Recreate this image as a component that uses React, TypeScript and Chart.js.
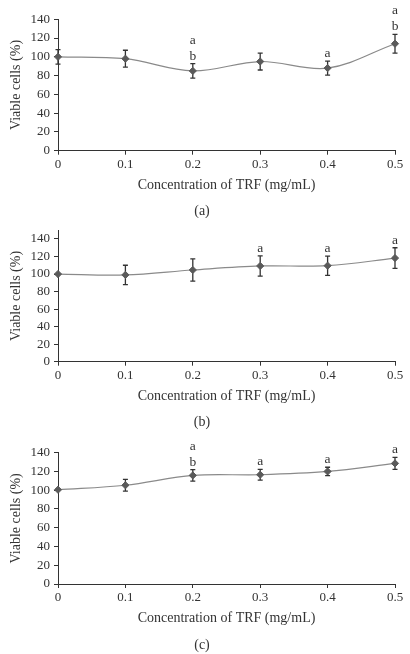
import React, { useEffect, useRef } from "react";
import { Chart, registerables } from "chart.js";

Chart.register(...registerables);

const xLabels = ["0", "0.1", "0.2", "0.3", "0.4", "0.5"];

const valuesA = [100, 98, 85, 95, 88, 114];
const errorsA = [7.7, 9, 7.7, 9, 7.5, 10];
const lettersA = ["", "", "ab", "", "a", "ab"];

const valuesB = [100, 99, 104.6, 109.2, 109.5, 118.2];
const errorsB = [0, 11, 12.8, 11.5, 11, 11.8];
const lettersB = ["", "", "", "a", "a", "a"];

const valuesC = [100.5, 105.3, 115.8, 116.5, 120, 128.6];
const errorsC = [0, 6.3, 6.2, 5.7, 4.5, 6.4];
const lettersC = ["", "", "ab", "a", "a", "a"];

const yMaxes = [140, 150, 140];
const captions = ["(a)", "(b)", "(c)"];
const xTitle = "Concentration of TRF (mg/mL)";
const yTitle = "Viable cells (%)";

const FONT = "'Liberation Serif', 'Times New Roman', serif";
const TEXT = "#333333";
const AXIS = "#333333";

const panels = [
  { values: valuesA, errors: errorsA, letters: lettersA, yMax: yMaxes[0], caption: captions[0], top: 0, padTop: 19.3, padBottom: 24.3 },
  { values: valuesB, errors: errorsB, letters: lettersB, yMax: yMaxes[1], caption: captions[1], top: 218, padTop: 12.2, padBottom: 31.3 },
  { values: valuesC, errors: errorsC, letters: lettersC, yMax: yMaxes[2], caption: captions[2], top: 436, padTop: 16.7, padBottom: 27 },
];

function Panel(props: any) {
  const { values, errors, letters, yMax, caption, padTop, padBottom } = props;
  const ref = useRef<HTMLCanvasElement | null>(null);
  useEffect(() => {
    if (!ref.current) return;
    const overlay = {
      id: "overlay",
      beforeDatasetsDraw(chart: any) {
        const ctx = chart.ctx;
        const xs = chart.scales.x;
        const ys = chart.scales.y;
        ctx.save();
        ctx.strokeStyle = AXIS;
        ctx.lineWidth = 1.3;
        values.forEach((v: number, i: number) => {
          const e = errors[i];
          if (!e) return;
          const x = xs.getPixelForValue(i);
          const yt = ys.getPixelForValue(v + e);
          const yb = ys.getPixelForValue(v - e);
          ctx.beginPath();
          ctx.moveTo(x, yt);
          ctx.lineTo(x, yb);
          ctx.moveTo(x - 2.5, yt);
          ctx.lineTo(x + 2.5, yt);
          ctx.moveTo(x - 2.5, yb);
          ctx.lineTo(x + 2.5, yb);
          ctx.stroke();
        });
        ctx.restore();
      },
      afterDraw(chart: any) {
        const ctx = chart.ctx;
        const xs = chart.scales.x;
        const ys = chart.scales.y;
        ctx.save();
        ctx.fillStyle = TEXT;
        ctx.font = `13.5px ${FONT}`;
        ctx.textAlign = "center";
        ctx.textBaseline = "middle";
        letters.forEach((s: string, i: number) => {
          if (!s) return;
          const x = xs.getPixelForValue(i);
          const yt = ys.getPixelForValue(values[i] + errors[i]);
          const n = s.length;
          for (let k = 0; k < n; k++) {
            const y = yt - 7.5 - (n - 1 - k) * 16;
            ctx.fillText(s[k], x, y);
          }
        });
        ctx.font = `14px ${FONT}`;
        ctx.fillText(caption, 202, chart.chartArea.bottom + 61);
        ctx.restore();
      },
    };
    const chart = new Chart(ref.current, {
      type: "line",
      data: {
        labels: xLabels,
        datasets: [
          {
            data: values,
            borderColor: "#8a8a8a",
            borderWidth: 1.2,
            tension: 0.35,
            pointStyle: "rectRot",
            pointRadius: 3.6,
            pointBackgroundColor: "#5a5a5a",
            pointBorderColor: "#5a5a5a",
            pointBorderWidth: 1,
            fill: false,
          },
        ],
      },
      options: {
        animation: false,
        responsive: false,
        devicePixelRatio: 1,
        layout: { padding: { top: padTop, bottom: padBottom, left: 0, right: 15 } },
        plugins: { legend: { display: false }, tooltip: { enabled: false }, title: { display: false } },
        scales: {
          x: {
            type: "category",
            offset: false,
            afterFit: (s: any) => {
              s.height = 43;
            },
            grid: { drawOnChartArea: false, drawTicks: true, tickLength: 4, color: AXIS, lineWidth: 1 },
            border: { display: true, color: AXIS, width: 1 },
            ticks: { color: TEXT, padding: 2, font: { family: FONT, size: 13 }, maxRotation: 0, autoSkip: false },
            title: { display: true, text: xTitle, color: TEXT, font: { family: FONT, size: 14 }, padding: { top: 0, bottom: 0 } },
          },
          y: {
            type: "linear",
            min: 0,
            max: yMax,
            afterFit: (s: any) => {
              s.width = 58;
            },
            grid: { drawOnChartArea: false, drawTicks: true, tickLength: 4, color: AXIS, lineWidth: 1 },
            border: { display: true, color: AXIS, width: 1 },
            ticks: { stepSize: 20, includeBounds: false, color: TEXT, padding: 4, font: { family: FONT, size: 13 } },
            title: { display: true, text: yTitle, color: TEXT, font: { family: FONT, size: 14 }, padding: { top: 7.5, bottom: 0 } },
          },
        },
      },
      plugins: [overlay],
    });
    return () => chart.destroy();
  }, []);
  return <canvas ref={ref} width={410} height={218} style={{ display: "block", width: 410, height: 218 }} />;
}

export default function App() {
  return (
    <div style={{ position: "absolute", left: 0, top: 0, width: 410, height: 654, background: "#fff" }}>
      {panels.map((p, i) => (
        <div key={i} style={{ position: "absolute", left: 0, top: p.top, width: 410, height: 218 }}>
          <Panel {...p} />
        </div>
      ))}
    </div>
  );
}
